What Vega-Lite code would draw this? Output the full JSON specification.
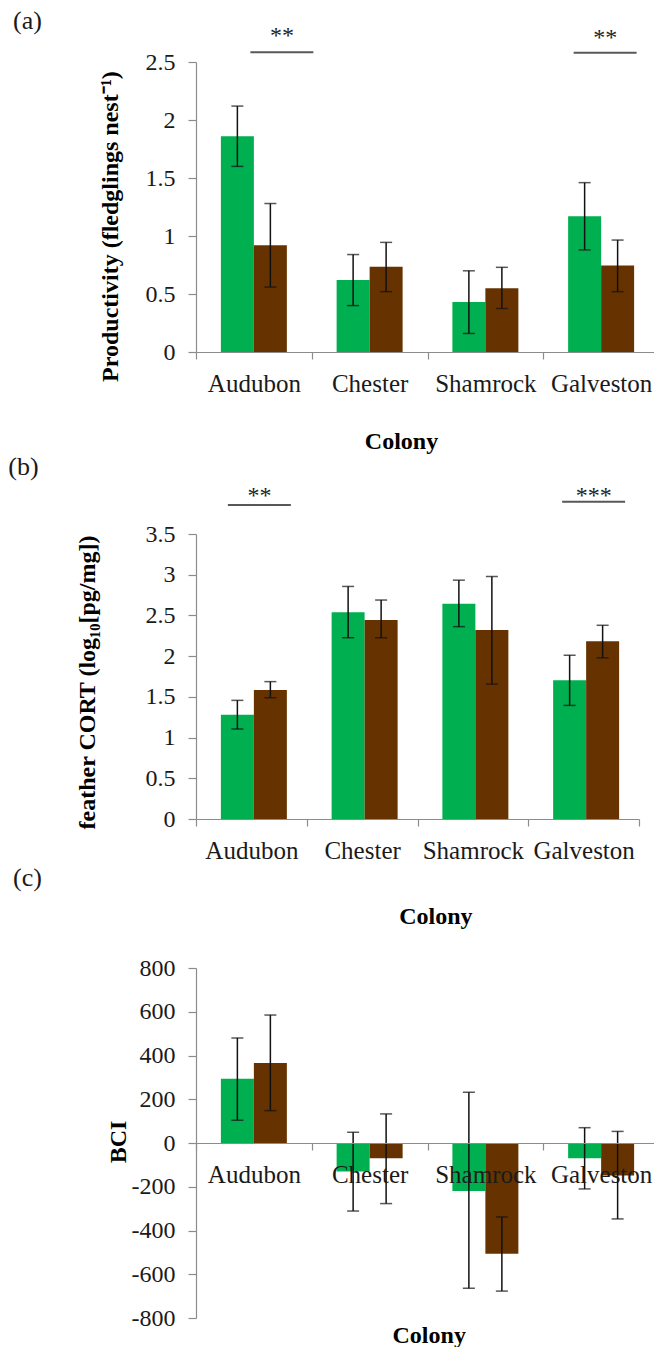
{
  "$schema": "https://vega.github.io/schema/vega-lite/v6.json",
  "padding": {"left": 8, "top": 7, "right": 0, "bottom": 0},
  "background": "white",
  "datasets": {
    "productivity": [
      {"colony": "Audubon", "series": "S1", "mean": 1.86, "lo": 1.60, "hi": 2.12},
      {"colony": "Audubon", "series": "S2", "mean": 0.92, "lo": 0.56, "hi": 1.28},
      {"colony": "Chester", "series": "S1", "mean": 0.62, "lo": 0.40, "hi": 0.84},
      {"colony": "Chester", "series": "S2", "mean": 0.735, "lo": 0.52, "hi": 0.945},
      {"colony": "Shamrock", "series": "S1", "mean": 0.43, "lo": 0.16, "hi": 0.70},
      {"colony": "Shamrock", "series": "S2", "mean": 0.55, "lo": 0.375, "hi": 0.73},
      {"colony": "Galveston", "series": "S1", "mean": 1.17, "lo": 0.88, "hi": 1.46},
      {"colony": "Galveston", "series": "S2", "mean": 0.745, "lo": 0.52, "hi": 0.965}
    ],
    "cort": [
      {"colony": "Audubon", "series": "S1", "mean": 1.28, "lo": 1.105, "hi": 1.457},
      {"colony": "Audubon", "series": "S2", "mean": 1.583, "lo": 1.489, "hi": 1.687},
      {"colony": "Chester", "series": "S1", "mean": 2.538, "lo": 2.226, "hi": 2.856},
      {"colony": "Chester", "series": "S2", "mean": 2.444, "lo": 2.226, "hi": 2.689},
      {"colony": "Shamrock", "series": "S1", "mean": 2.644, "lo": 2.362, "hi": 2.933},
      {"colony": "Shamrock", "series": "S2", "mean": 2.321, "lo": 1.656, "hi": 2.978},
      {"colony": "Galveston", "series": "S1", "mean": 1.705, "lo": 1.395, "hi": 2.011},
      {"colony": "Galveston", "series": "S2", "mean": 2.183, "lo": 1.979, "hi": 2.379}
    ],
    "bci": [
      {"colony": "Audubon", "series": "S1", "mean": 294, "lo": 104, "hi": 480},
      {"colony": "Audubon", "series": "S2", "mean": 366, "lo": 148, "hi": 585},
      {"colony": "Chester", "series": "S1", "mean": -130, "lo": -311, "hi": 49},
      {"colony": "Chester", "series": "S2", "mean": -70, "lo": -277, "hi": 133},
      {"colony": "Shamrock", "series": "S1", "mean": -219, "lo": -664, "hi": 232},
      {"colony": "Shamrock", "series": "S2", "mean": -506, "lo": -677, "hi": -338},
      {"colony": "Galveston", "series": "S1", "mean": -70, "lo": -210, "hi": 70},
      {"colony": "Galveston", "series": "S2", "mean": -148, "lo": -347, "hi": 53}
    ],
    "sig": [
      {"panel": "a", "colony": "Audubon", "label": "**", "level": 2.583},
      {"panel": "a", "colony": "Galveston", "label": "**", "level": 2.58},
      {"panel": "b", "colony": "Audubon", "label": "**", "level": 3.856},
      {"panel": "b", "colony": "Galveston", "label": "***", "level": 3.897}
    ]
  },
  "spacing": -63,
  "vconcat": [
    {
      "spacing": 0,
      "vconcat": [
        {
          "width": 463,
          "height": 290,
          "title": {"text": "(a)", "dx": -183, "dy": 14},
          "encoding": {
            "x": {
              "field": "colony", "type": "nominal",
              "sort": ["Audubon", "Chester", "Shamrock", "Galveston"],
              "scale": {"paddingInner": 0, "paddingOuter": 0},
              "axis": {"title": "Colony", "tickBand": "extent", "tickSize": 7, "labelPadding": 12, "labelFontSize": 25,
                       "titleX": 205, "titleY": 89, "titleBaseline": "middle", "titleAlign": "center"}
            }
          },
          "layer": [
            {
              "data": {"name": "productivity"},
              "encoding": {"xOffset": {"field": "series", "type": "nominal", "sort": ["S1", "S2"], "scale": {"paddingInner": 0, "paddingOuter": 0.754}}},
              "layer": [
                {
                  "mark": {"type": "bar"},
                  "encoding": {
                    "y": {"field": "mean", "type": "quantitative", "scale": {"domain": [0, 2.5], "nice": false},
                          "axis": {"title": "Productivity (fledglings nest⁻¹)", "values": [0, 0.5, 1, 1.5, 2, 2.5], "labelExpr": "'' + datum.value",
                                   "tickSize": 8, "labelPadding": 13, "labelFontSize": 24,
                                   "titleAngle": -90, "titleX": -86, "titleY": 164, "titleBaseline": "middle", "titleAlign": "center"}},
                    "color": {"field": "series", "type": "nominal", "scale": {"domain": ["S1", "S2"], "range": ["#00B050", "#663300"]}, "legend": null}
                  }
                },
                {"mark": {"type": "rule", "color": "#111", "strokeWidth": 1.5}, "encoding": {"y": {"field": "lo", "type": "quantitative"}, "y2": {"field": "hi"}}},
                {"mark": {"type": "tick", "color": "#111", "size": 12, "thickness": 1.5}, "encoding": {"y": {"field": "lo", "type": "quantitative"}}},
                {"mark": {"type": "tick", "color": "#111", "size": 12, "thickness": 1.5}, "encoding": {"y": {"field": "hi", "type": "quantitative"}}}
              ]
            },
            {
              "data": {"name": "sig"},
              "transform": [{"filter": "datum.panel === 'a' && datum.colony === 'Audubon'"}],
              "encoding": {"y": {"field": "level", "type": "quantitative"}},
              "layer": [
                {"mark": {"type": "tick", "color": "#111", "size": 63, "thickness": 2, "xOffset": 28}},
                {"mark": {"type": "text", "fontSize": 24, "baseline": "alphabetic", "dy": -9.7, "xOffset": 28, "color": "#222"}, "encoding": {"text": {"field": "label"}}}
              ]
            },
            {
              "data": {"name": "sig"},
              "transform": [{"filter": "datum.panel === 'a' && datum.colony === 'Galveston'"}],
              "encoding": {"y": {"field": "level", "type": "quantitative"}},
              "layer": [
                {"mark": {"type": "tick", "color": "#111", "size": 63, "thickness": 2, "xOffset": 4}},
                {"mark": {"type": "text", "fontSize": 24, "baseline": "alphabetic", "dy": -7.4, "xOffset": 4, "color": "#222"}, "encoding": {"text": {"field": "label"}}}
              ]
            }
          ]
        },
        {
          "width": 443,
          "height": 285,
          "title": {"text": "(b)", "dx": -187.7},
          "encoding": {
            "x": {
              "field": "colony", "type": "nominal",
              "sort": ["Audubon", "Chester", "Shamrock", "Galveston"],
              "scale": {"paddingInner": 0, "paddingOuter": 0},
              "axis": {"title": "Colony", "tickBand": "extent", "tickSize": 7, "labelPadding": 12, "labelFontSize": 25,
                       "titleX": 239.3, "titleY": 97, "titleBaseline": "middle", "titleAlign": "center"}
            }
          },
          "layer": [
            {
              "data": {"name": "cort"},
              "encoding": {"xOffset": {"field": "series", "type": "nominal", "sort": ["S1", "S2"], "scale": {"paddingInner": 0, "paddingOuter": 0.754}}},
              "layer": [
                {
                  "mark": {"type": "bar"},
                  "encoding": {
                    "y": {"field": "mean", "type": "quantitative", "scale": {"domain": [0, 3.5], "nice": false},
                          "axis": {"title": "feather CORT (log₁₀[pg/mg])", "values": [0, 0.5, 1, 1.5, 2, 2.5, 3, 3.5], "labelExpr": "'' + datum.value",
                                   "tickSize": 8, "labelPadding": 13, "labelFontSize": 24,
                                   "titleAngle": -90, "titleX": -108.2, "titleY": 148, "titleBaseline": "middle", "titleAlign": "center"}},
                    "color": {"field": "series", "type": "nominal", "scale": {"domain": ["S1", "S2"], "range": ["#00B050", "#663300"]}, "legend": null}
                  }
                },
                {"mark": {"type": "rule", "color": "#111", "strokeWidth": 1.5}, "encoding": {"y": {"field": "lo", "type": "quantitative"}, "y2": {"field": "hi"}}},
                {"mark": {"type": "tick", "color": "#111", "size": 12, "thickness": 1.5}, "encoding": {"y": {"field": "lo", "type": "quantitative"}}},
                {"mark": {"type": "tick", "color": "#111", "size": 12, "thickness": 1.5}, "encoding": {"y": {"field": "hi", "type": "quantitative"}}}
              ]
            },
            {
              "data": {"name": "sig"},
              "transform": [{"filter": "datum.panel === 'b' && datum.colony === 'Audubon'"}],
              "encoding": {"y": {"field": "level", "type": "quantitative"}},
              "layer": [
                {"mark": {"type": "tick", "color": "#111", "size": 63, "thickness": 2, "xOffset": 8}},
                {"mark": {"type": "text", "fontSize": 24, "baseline": "alphabetic", "dy": -2.5, "xOffset": 8, "color": "#222"}, "encoding": {"text": {"field": "label"}}}
              ]
            },
            {
              "data": {"name": "sig"},
              "transform": [{"filter": "datum.panel === 'b' && datum.colony === 'Galveston'"}],
              "encoding": {"y": {"field": "level", "type": "quantitative"}},
              "layer": [
                {"mark": {"type": "tick", "color": "#111", "size": 63, "thickness": 2, "xOffset": 10}},
                {"mark": {"type": "text", "fontSize": 24, "baseline": "alphabetic", "dy": 1.6, "xOffset": 10, "color": "#222"}, "encoding": {"text": {"field": "label"}}}
              ]
            }
          ]
        }
      ]
    },
    {
      "width": 463,
      "height": 350,
      "title": {"text": "(c)", "dx": -183, "dy": -61},
      "data": {"name": "bci"},
      "encoding": {
        "x": {
          "field": "colony", "type": "nominal",
          "sort": ["Audubon", "Chester", "Shamrock", "Galveston"],
          "scale": {"paddingInner": 0, "paddingOuter": 0},
          "axis": {"title": "Colony", "tickBand": "extent", "tickSize": 7, "labelPadding": 12, "labelFontSize": 25, "offset": -175, "zindex": 1,
                   "titleX": 232.7, "titleY": 192, "titleBaseline": "middle", "titleAlign": "center"}
        },
        "xOffset": {"field": "series", "type": "nominal", "sort": ["S1", "S2"], "scale": {"paddingInner": 0, "paddingOuter": 0.754}}
      },
      "layer": [
        {
          "mark": {"type": "bar"},
          "encoding": {
            "y": {"field": "mean", "type": "quantitative", "scale": {"domain": [-800, 800], "nice": false},
                  "axis": {"title": "BCI", "values": [-800, -600, -400, -200, 0, 200, 400, 600, 800], "labelExpr": "'' + datum.value",
                           "tickSize": 8, "labelPadding": 13, "labelFontSize": 24,
                           "titleAngle": -90, "titleX": -77.5, "titleY": 173.4, "titleBaseline": "middle", "titleAlign": "center"}},
            "color": {"field": "series", "type": "nominal", "scale": {"domain": ["S1", "S2"], "range": ["#00B050", "#663300"]}, "legend": null}
          }
        },
        {"mark": {"type": "rule", "color": "#111", "strokeWidth": 1.5}, "encoding": {"y": {"field": "lo", "type": "quantitative"}, "y2": {"field": "hi"}}},
        {"mark": {"type": "tick", "color": "#111", "size": 12, "thickness": 1.5}, "encoding": {"y": {"field": "lo", "type": "quantitative"}}},
        {"mark": {"type": "tick", "color": "#111", "size": 12, "thickness": 1.5}, "encoding": {"y": {"field": "hi", "type": "quantitative"}}}
      ]
    }
  ],
  "config": {
    "font": "Liberation Serif",
    "view": {"stroke": null},
    "axis": {
      "labelFont": "Liberation Serif", "labelColor": "#1a1a1a", "labelAngle": 0,
      "titleFont": "Liberation Serif", "titleFontSize": 24, "titleFontWeight": "bold", "titleColor": "#000",
      "domainColor": "#8c8c8c", "tickColor": "#8c8c8c", "domainWidth": 1.2, "tickWidth": 1.2, "grid": false
    },
    "title": {"font": "Liberation Serif", "fontSize": 26, "fontWeight": "normal", "color": "#1a1a1a", "anchor": "start", "frame": "group"}
  }
}
